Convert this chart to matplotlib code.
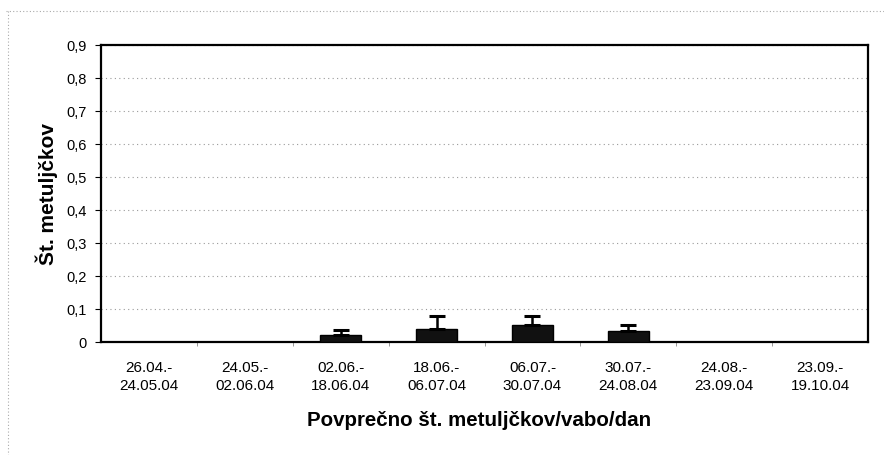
import matplotlib
matplotlib.use("Agg")
import matplotlib.pyplot as plt
import numpy as np
from matplotlib.ticker import FuncFormatter, FixedLocator
from matplotlib.lines import Line2D

categories = ["26.04.-\n24.05.04", "24.05.-\n02.06.04", "02.06.-\n18.06.04",
              "18.06.-\n06.07.04", "06.07.-\n30.07.04", "30.07.-\n24.08.04",
              "24.08.-\n23.09.04", "23.09.-\n19.10.04"]
values = [0.0, 0.0, 0.020, 0.039, 0.050, 0.032, 0.0, 0.0]
errors = [0.0, 0.0, 0.017, 0.041, 0.030, 0.019, 0.0, 0.0]
yticks = [0, 0.1, 0.2, 0.3, 0.4, 0.5, 0.6, 0.7, 0.8, 0.9]

plt.rcParams['font.family'] = ['Liberation Sans', 'DejaVu Sans']

fig = plt.figure(figsize=(8.84, 4.56), dpi=100)
ax = fig.add_axes([101/884, 1 - 343/456, (868 - 101)/884, (343 - 45.5)/456])

x = np.arange(len(categories))
ax.bar(x, values, width=0.43, color='#111111', edgecolor='black', zorder=3)
mask = [e > 0 for e in errors]
xe = x[mask]
ve = np.array(values)[mask]
ee = np.array(errors)[mask]
ax.errorbar(xe, ve, yerr=[np.zeros_like(ee), ee], fmt='none', ecolor='black',
            elinewidth=1.8, capsize=6, capthick=2.2, zorder=4)

ax.set_xlim(-0.5, len(categories) - 0.5)
ax.set_ylim(0, 0.9)
ax.set_yticks(yticks)
ax.yaxis.set_major_formatter(FuncFormatter(lambda v, p: "0" if abs(v) < 1e-9 else f"{v:.1f}".replace('.', ',')))
ax.set_xticks(x)
ax.set_xticklabels(categories, fontsize=11, linespacing=1.38)
ax.xaxis.set_minor_locator(FixedLocator(np.arange(0.5, len(categories) - 0.5, 1)))
ax.tick_params(axis='x', which='major', length=0, pad=13)
ax.tick_params(axis='x', which='minor', length=3, width=0.6, color='#888888')
ax.tick_params(axis='y', length=4, width=0.8, labelsize=10.5, pad=6)

ax.grid(axis='y', color='#9a9a9a', linestyle=(0, (1, 3)), linewidth=0.8, zorder=0)
for s in ax.spines.values():
    s.set_linewidth(1.6)
    s.set_color('black')

ax.set_ylabel("Št. metuljčkov", fontsize=15, fontweight='bold', labelpad=6)
ax.set_xlabel("Povprečno št. metuljčkov/vabo/dan", fontsize=14.8, fontweight='bold')
ax.xaxis.set_label_coords(0.493, -0.228)

# dotted outer frame (top and left)
fig.add_artist(Line2D([6/884, 1.0], [1 - 12/456, 1 - 12/456], transform=fig.transFigure,
                      color='#aaaaaa', linestyle=(0, (1, 2)), linewidth=0.8))
fig.add_artist(Line2D([8/884, 8/884], [1 - 12/456, 0.0], transform=fig.transFigure,
                      color='#aaaaaa', linestyle=(0, (1, 2)), linewidth=0.8))

fig.savefig("out.png", dpi=100)
